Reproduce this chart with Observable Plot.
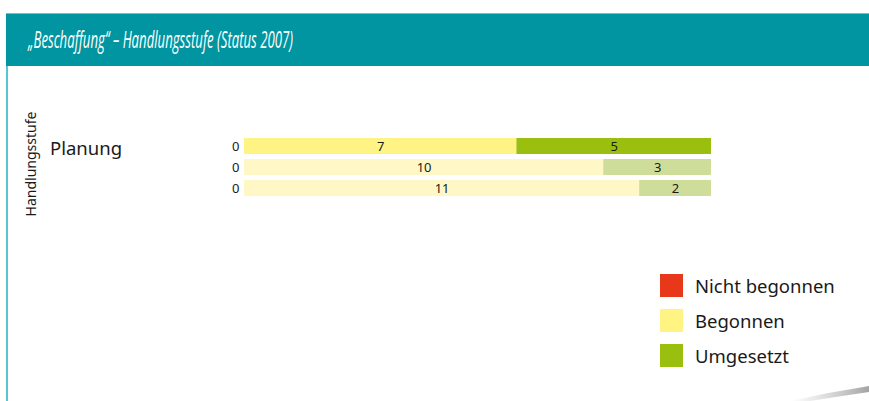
<!DOCTYPE html>
<html>
<head>
<meta charset="utf-8">
<script src="https://cdn.jsdelivr.net/npm/d3@7"></script>
<script src="https://cdn.jsdelivr.net/npm/@observablehq/plot@0.6"></script>
<style>
  html, body { margin: 0; padding: 0; background: #fff; }
  #page { position: relative; width: 869px; height: 401px; overflow: hidden; background: #fff; font-family: "Noto Sans", "Open Sans", sans-serif; color: #1a1a1a; }
  #header { position: absolute; left: 6px; top: 13px; width: 863px; height: 53px; background: #0095a1; border-top: 1px solid #63c7cf; box-sizing: border-box; }
  #title { position: absolute; left: 28px; top: 22px; color: #fff; font-style: italic; font-size: 24px; white-space: nowrap; transform-origin: 0 50%; font-family: "Open Sans", "Noto Sans", sans-serif; }
  #leftline { position: absolute; left: 6px; top: 66px; width: 2px; height: 335px; background: #55c6d4; }
  #ylabel { position: absolute; left: 30px; top: 164px; transform: translate(-50%, -50%) rotate(-90deg); font-size: 14px; white-space: nowrap; }
  #cat { position: absolute; left: 50px; top: 135px; font-size: 18.5px; white-space: nowrap; }
  #chart { position: absolute; left: 0; top: 0; }
  .leg { position: absolute; left: 660px; height: 23px; display: flex; align-items: center; font-size: 18.5px; white-space: nowrap; }
  .leg span.sw { width: 23px; height: 23px; display: inline-block; margin-right: 12px; }
  #swoosh { position: absolute; left: 0; top: 0; }
</style>
</head>
<body>
<div id="page">
  <div id="header"></div>
  <div id="title">„Beschaffung“ – Handlungsstufe (Status 2007)</div>
  <div id="leftline"></div>
  <div id="ylabel">Handlungsstufe</div>
  <div id="cat"></div>
  <div id="chart"></div>
  <div id="legend"></div>
  <svg id="swoosh" width="869" height="401">
    <defs>
      <linearGradient id="sg" x1="0" x2="1" y1="0" y2="0">
        <stop offset="0" stop-color="#bbb" stop-opacity="0"/>
        <stop offset="1" stop-color="#999" stop-opacity="0.9"/>
      </linearGradient>
    </defs>
    <path d="M790,401 Q830,392 869,386 L869,392 Q835,397 810,401 Z" fill="url(#sg)"/>
  </svg>
</div>
<script>
// ---- data ----
const category = "Planung";
const rows = ["Zeile 1", "Zeile 2", "Zeile 3"];
const statuses = ["Nicht begonnen", "Begonnen", "Umgesetzt"];
const nichtBegonnen = [0, 0, 0];
const begonnen = [7, 10, 11];
const umgesetzt = [5, 3, 2];

// ---- styles ----
const strongColors = {"Nicht begonnen": "#e8381b", "Begonnen": "#fff384", "Umgesetzt": "#9abf0f"};
const paleColors = {"Nicht begonnen": "#f7c9a0", "Begonnen": "#fff8c6", "Umgesetzt": "#cfdd9b"};

const series = [nichtBegonnen, begonnen, umgesetzt];
const data = rows.flatMap((row, i) => statuses.map((status, j) => ({
  row, status, value: series[j][i],
  color: (i === 0 ? strongColors : paleColors)[status]
})));

document.getElementById("cat").textContent = category;

const chart = Plot.plot({
  width: 869,
  height: 401,
  marginTop: 137,
  marginBottom: 205,
  marginLeft: 244,
  marginRight: 158,
  style: {background: "transparent", fontFamily: "Noto Sans, Open Sans, sans-serif", fontSize: "13px", overflow: "visible"},
  x: {axis: null},
  y: {axis: null, domain: rows, paddingInner: 0.25, paddingOuter: 0},
  color: {type: "identity"},
  marks: [
    Plot.barX(data, Plot.stackX({
      offset: "normalize", x: "value", y: "row", fill: "color",
      stroke: d => d.status === "Nicht begonnen" ? "#f7b98a" : "none", strokeWidth: 1
    })),
    Plot.text(data.filter(d => d.value > 0), Plot.stackX({
      offset: "normalize", x: "value", y: "row", text: d => String(d.value), fill: "#1a1a1a", fontSize: 13
    })),
    Plot.text(data.filter(d => d.status === "Nicht begonnen"), {
      x: "value", y: "row", text: d => String(d.value), textAnchor: "end", dx: -5, fill: "#1a1a1a", fontSize: 13
    })
  ]
});
document.getElementById("chart").appendChild(chart);

// legend
const legend = document.getElementById("legend");
statuses.forEach((s, i) => {
  const item = document.createElement("div");
  item.className = "leg";
  item.style.top = (274 + i * 35) + "px";
  const sw = document.createElement("span");
  sw.className = "sw";
  sw.style.background = strongColors[s];
  item.appendChild(sw);
  item.appendChild(document.createTextNode(s));
  legend.appendChild(item);
});

// fit condensed title width
const t = document.getElementById("title");
const w = t.getBoundingClientRect().width;
t.style.transform = `scaleX(${265 / w})`;
</script>
</body>
</html>
